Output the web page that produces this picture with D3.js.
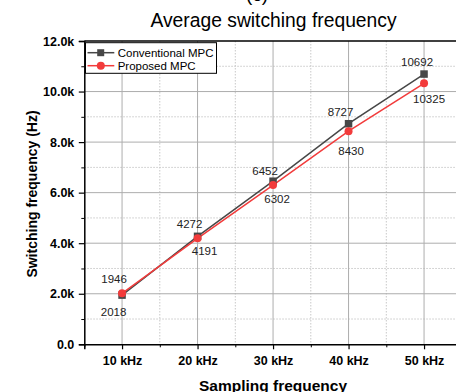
<!DOCTYPE html>
<html><head><meta charset="utf-8">
<script src="https://cdn.jsdelivr.net/npm/d3@7"></script>
<style>body{margin:0;background:#fff;overflow:hidden}svg{display:block}text{font-family:Arial,"Liberation Sans",sans-serif}</style>
</head><body>
<script>
const categories = ["10 kHz","20 kHz","30 kHz","40 kHz","50 kHz"];
const conventional = [1946, 4272, 6452, 8727, 10692];
const proposed = [2018, 4191, 6302, 8430, 10325];
const yTicks = [0, 2000, 4000, 6000, 8000, 10000, 12000];
const yMinorTicks = [1000, 3000, 5000, 7000, 9000, 11000];
const seriesNames = ["Conventional MPC", "Proposed MPC"];

// layout (label nudges, px)
const convLabelDx = [-8, -8, -8, -8, -7];
const convLabelDy = [-12, -8, -6, -8, -8];
const propLabelDx = [-8.5, 7, 4, 2.5, 5];
const propLabelDy = [23, 16.5, 18, 24, 20];

const W = 456, H = 392;
const svg = d3.select("body").append("svg").attr("width", W).attr("height", H);
const L = 84.3, T = 41, B = 344.3;
const step = 75.5;
const x = d3.scaleLinear().domain([0.5, 5.5]).range([L, L + 5 * step]);
const y = d3.scaleLinear().domain([0, 12000]).range([B, T]);
const R = x(5.5);
const GRAY = "#474747", RED = "#f23b3b";

// gridlines
const g = svg.append("g");
g.selectAll(".vmin").data([1.5, 2.5, 3.5, 4.5]).join("line")
  .attr("x1", d => x(d)).attr("x2", d => x(d)).attr("y1", T).attr("y2", B)
  .attr("stroke", "#c8c8c8").attr("stroke-dasharray", "1.5,1.5").attr("stroke-width", 1);
g.selectAll(".hmin").data(yMinorTicks).join("line")
  .attr("x1", L).attr("x2", R).attr("y1", d => y(d)).attr("y2", d => y(d))
  .attr("stroke", "#c8c8c8").attr("stroke-dasharray", "1.5,1.5").attr("stroke-width", 1);
g.selectAll(".vmaj").data(d3.range(1, 6)).join("line")
  .attr("x1", d => x(d)).attr("x2", d => x(d)).attr("y1", T).attr("y2", B)
  .attr("stroke", "#adadad").attr("stroke-width", 1);
g.selectAll(".hmaj").data(yTicks.slice(1, -1)).join("line")
  .attr("x1", L).attr("x2", R).attr("y1", d => y(d)).attr("y2", d => y(d))
  .attr("stroke", "#adadad").attr("stroke-width", 1);

// axes
const yAxis = d3.axisLeft(y).tickValues(yTicks).tickSize(5.5).tickPadding(4.5)
  .tickFormat(d => d === 0 ? "0.0" : (d / 1000).toFixed(1) + "k");
const ya = svg.append("g").attr("transform", `translate(${L},0)`).call(yAxis);
ya.select(".domain").attr("stroke", "#000").attr("stroke-width", 1.5);
ya.selectAll(".tick line").attr("stroke-width", 1.2);
ya.selectAll("text").attr("font-size", 12.5).attr("font-weight", "bold").attr("fill", "#000");
const yMin = d3.axisLeft(y).tickValues(yMinorTicks).tickSize(3).tickFormat("");
const ym = svg.append("g").attr("transform", `translate(${L},0)`).call(yMin);
ym.select(".domain").remove();

const xAxis = d3.axisBottom(x).tickValues([1, 2, 3, 4, 5]).tickSize(5).tickPadding(6.7)
  .tickFormat(d => categories[d - 1]);
const xa = svg.append("g").attr("transform", `translate(0,${B})`).call(xAxis);
xa.select(".domain").attr("stroke", "#000").attr("stroke-width", 1.5);
xa.selectAll(".tick line").attr("stroke-width", 1.2);
xa.selectAll("text").attr("font-size", 12.5).attr("font-weight", "bold").attr("fill", "#000");
const xMin = d3.axisBottom(x).tickValues([0.5, 1.5, 2.5, 3.5, 4.5]).tickSize(3).tickFormat("");
const xm = svg.append("g").attr("transform", `translate(0,${B})`).call(xMin);
xm.select(".domain").remove();

// top frame
svg.append("line").attr("x1", L).attr("x2", R).attr("y1", T).attr("y2", T)
  .attr("stroke", "#000").attr("stroke-width", 1.5);

// lines
const line = d3.line().x((d, i) => x(i + 1)).y(d => y(d));
svg.append("path").datum(conventional).attr("d", line).attr("fill", "none")
  .attr("stroke", GRAY).attr("stroke-width", 1.5);
svg.append("path").datum(proposed).attr("d", line).attr("fill", "none")
  .attr("stroke", RED).attr("stroke-width", 1.5);
svg.selectAll(".sq").data(conventional).join("rect")
  .attr("x", (d, i) => x(i + 1) - 3.75).attr("y", d => y(d) - 3.75)
  .attr("width", 7.5).attr("height", 7.5).attr("fill", GRAY);
svg.selectAll(".ci").data(proposed).join("circle")
  .attr("cx", (d, i) => x(i + 1)).attr("cy", d => y(d)).attr("r", 4).attr("fill", RED);

// value labels
svg.selectAll(".lc").data(conventional).join("text")
  .attr("x", (d, i) => x(i + 1) + convLabelDx[i]).attr("y", (d, i) => y(d) + convLabelDy[i])
  .attr("text-anchor", "middle").attr("font-size", 11.5).attr("fill", "#222").text(d => d);
svg.selectAll(".lp").data(proposed).join("text")
  .attr("x", (d, i) => x(i + 1) + propLabelDx[i]).attr("y", (d, i) => y(d) + propLabelDy[i])
  .attr("text-anchor", "middle").attr("font-size", 11.5).attr("fill", "#222").text(d => d);

// legend
const lg = svg.append("g");
lg.append("rect").attr("x", 85.5).attr("y", 42.7).attr("width", 131).attr("height", 30.6)
  .attr("fill", "#fff").attr("stroke", "#000").attr("stroke-width", 1);
[0, 1].forEach(i => {
  const cy = 52.7 + i * 13;
  const col = i === 0 ? GRAY : RED;
  lg.append("line").attr("x1", 87.5).attr("x2", 114.3).attr("y1", cy).attr("y2", cy)
    .attr("stroke", col).attr("stroke-width", 1.5);
  if (i === 0) lg.append("rect").attr("x", 97.2).attr("y", cy - 3.5).attr("width", 7).attr("height", 7).attr("fill", col);
  else lg.append("circle").attr("cx", 100.8).attr("cy", cy).attr("r", 4).attr("fill", col);
  lg.append("text").attr("x", 117.7).attr("y", cy + 4).attr("font-size", 11.5).attr("fill", "#000").text(seriesNames[i]);
});

// titles
svg.append("text").attr("x", 257).attr("y", 1).attr("text-anchor", "middle")
  .attr("font-size", 19).attr("fill", "#000").text("(c)");
svg.append("text").attr("x", 273.5).attr("y", 26.5).attr("text-anchor", "middle")
  .attr("font-size", 19.3).attr("fill", "#000").text("Average switching frequency");
svg.append("text").attr("transform", `translate(37,194) rotate(-90)`)
  .attr("text-anchor", "middle").attr("font-size", 14).attr("font-weight", "bold")
  .attr("fill", "#000").text("Switching frequency (Hz)");
svg.append("text").attr("x", 273).attr("y", 390.5).attr("text-anchor", "middle")
  .attr("font-size", 15.5).attr("font-weight", "bold").attr("fill", "#000").text("Sampling frequency");
</script>
</body></html>
